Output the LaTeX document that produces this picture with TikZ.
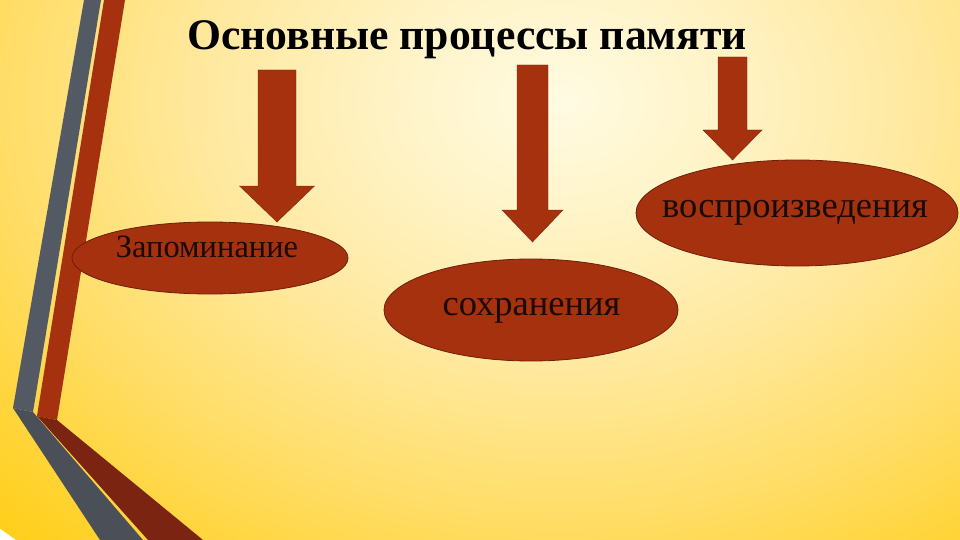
\documentclass[tikz,border=0pt]{standalone}
\usepackage{fontspec}
\setmainfont{Liberation Serif}
\usetikzlibrary{shapes.geometric}
\definecolor{rust}{HTML}{A5310F}
\definecolor{rustdark}{HTML}{6E1F08}
\definecolor{rustlow}{HTML}{7B2412}
\definecolor{slate}{HTML}{545A63}
\definecolor{slatelow}{HTML}{4A4F58}
\definecolor{inktext}{HTML}{1A0A05}
\definecolor{glowA}{HTML}{FFFBE3}
\definecolor{glowB}{HTML}{FFF4C8}
\definecolor{glowC}{HTML}{FFE9A0}
\definecolor{glowD}{HTML}{FFDD66}
\definecolor{glowE}{HTML}{FFD332}
\definecolor{glowF}{HTML}{FFCB05}
\pgfdeclareradialshading{glow}{\pgfpoint{0bp}{0bp}}{color(0bp)=(glowA); color(5bp)=(glowB); color(11bp)=(glowC); color(17.5bp)=(glowD); color(22.5bp)=(glowE); color(27.5bp)=(glowF); color(50bp)=(glowF)}
\tikzset{
	procbox/.style = {ellipse, draw=rustdark, fill=rust, line width=0.8pt, inner sep=0pt},
	proclabel/.style = {font=\fontsize{36.5}{42}\selectfont, text=inktext, inner sep=0pt, anchor=base},
	headline/.style = {font=\fontsize{43.7}{50}\selectfont\bfseries, text=black, inner sep=0pt, anchor=base},
	blockfill/.style = {fill=rust, draw=rust!80!black, line width=0.4pt}
}
% x, top, shaft half width, head y, head half width, tip
\newcommand{\blockarrow}[6]{
	\filldraw[blockfill] (#1-#3,#2) -- (#1+#3,#2) -- (#1+#3,#4) -- (#1+#5,#4)
		-- (#1,#6) -- (#1-#5,#4) -- (#1-#3,#4) -- cycle;
}
\begin{document}
\begin{tikzpicture}[x=1pt, y=-1pt]
	\useasboundingbox (0,0) rectangle (960,540);
	\begin{scope}
		\clip (0,0) rectangle (960,540);
		\shade[shading=glow] (560,100) ellipse [x radius=800, y radius=600];
		% stripes on the left
		\fill[slate] (84,0) -- (101,0) -- (33,412) -- (13,408) -- cycle;
		\fill[slatelow] (13,408) -- (33,412) -- (143,540) -- (100,540) -- cycle;
		\fill[rust] (104,0) -- (125,0) -- (57,420) -- (37,416) -- cycle;
		\fill[rustlow] (37,416) -- (57,420) -- (203,540) -- (148,540) -- cycle;
	\end{scope}

	\node[headline] (head) at (467,50) {Основные процессы памяти};

	\blockarrow{277}{70}{19}{186}{37.5}{222}
	\blockarrow{532.5}{65}{15.5}{210}{30.5}{242}
	\blockarrow{732.5}{57}{14.5}{130}{29.5}{160}

	\node[procbox, minimum width=276pt, minimum height=72pt] (zap) at (210,258) {};
	\node[procbox, minimum width=294pt, minimum height=102pt] (sokh) at (531,310) {};
	\node[procbox, minimum width=322pt, minimum height=106pt] (vosp) at (797,213) {};

	\node[proclabel, font=\fontsize{32.5}{38}\selectfont] (zaptext) at (207,257) {Запоминание};
	\node[proclabel] (sokhtext) at (531.5,315) {сохранения};
	\node[proclabel] (vosptext) at (795,217) {воспроизведения};
\end{tikzpicture}
\end{document}
